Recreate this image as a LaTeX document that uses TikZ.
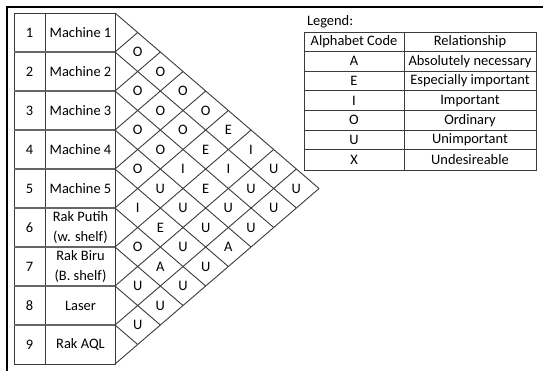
\documentclass[tikz,border=0pt]{standalone}
\usepackage{fontspec}
\setmainfont{Carlito}
\usetikzlibrary{calc}
\definecolor{ink}{HTML}{000000}
\definecolor{rule}{HTML}{3A3A3A}
\definecolor{softrule}{HTML}{666666}
\newcommand{\cellfont}{\fontsize{14.5}{20.5}\selectfont}
\tikzset{
  every node/.style={font=\cellfont,text=ink,inner sep=0pt,outer sep=0pt},
  frame/.style={line width=2.6bp,draw=ink},
  grid/.style={line width=.9bp,draw=rule},
  rowline/.style={line width=1.1bp,draw=softrule},
  lattice/.style={line width=.9bp,draw=rule},
  twoline/.style={align=center}
}

\begin{document}
\begin{tikzpicture}[x=1bp,y=-1bp]

\path[use as bounding box] (0,0) rectangle (543,371);
% page frame, only top and left survive the crop
\draw[frame] (7,371) -- (7,7) -- (543,7);

% activity list, 9 rows of 39
\draw[grid] (14,13) rectangle (115,364);
\draw[grid] (45,13) -- (45,364);
\foreach \m in {1,...,8}
 \draw[rowline] (14,13+39*\m) -- (115,13+39*\m);
\foreach \n/\name in {1/Machine 1,2/Machine 2,3/Machine 3,4/Machine 4,5/Machine 5,
  6/{Rak Putih\\(w. shelf)},7/{Rak Biru\\(B. shelf)},8/Laser,9/Rak AQL} {
 \node (num\n) at (29.5,{13+39*\n-19.5}) {\n};
 \node[twoline] (act\n) at (80.5,{13+39*\n-19.5}) {\name};
}

% diamond lattice: half-width 22.67, half-height 19.5
\foreach \m in {0,...,8}
 \draw[lattice] (115,13+39*\m) -- ++({(9-\m)*22.67},{(9-\m)*19.5});
\foreach \m in {1,...,9}
 \draw[lattice] (115,13+39*\m) -- ++({\m*22.67},{-\m*19.5});

% relationship codes, pair i/j
\foreach \i/\j/\c in {1/2/O,1/3/O,1/4/O,1/5/O,1/6/E,1/7/I,1/8/U,1/9/U,
  2/3/O,2/4/O,2/5/O,2/6/E,2/7/I,2/8/U,2/9/U,
  3/4/O,3/5/O,3/6/I,3/7/E,3/8/U,3/9/U,
  4/5/O,4/6/U,4/7/U,4/8/U,4/9/A,
  5/6/I,5/7/E,5/8/U,5/9/U,
  6/7/O,6/8/A,6/9/U,
  7/8/U,7/9/U,
  8/9/U}
 \node (r\i\j) at ({115+(\j-\i)*22.67},{13+19.5*(\i+\j-1)}) {\c};

% legend
\node[anchor=west] (legend) at (307,22) {Legend:};
\draw[grid] (304.5,32) rectangle (536,170);
\draw[grid] (404,32) -- (404,170);
\foreach \k in {0,...,5}
 \draw[grid] (304.5,51.3+19.7*\k) -- (536,51.3+19.7*\k);
\node (hcode) at (354,41.6) {Alphabet Code};
\node (hrel) at (470,41.6) {Relationship};
\foreach \k/\c/\txt in {1/A/Absolutely necessary,2/E/Especially important,3/I/Important,
  4/O/Ordinary,5/U/Unimportant,6/X/Undesireable} {
 \node (code\c) at (354,{51.3+19.7*\k-9.85}) {\c};
 \node (rel\c) at (470,{51.3+19.7*\k-9.85}) {\txt};
}
\end{tikzpicture}
\end{document}
